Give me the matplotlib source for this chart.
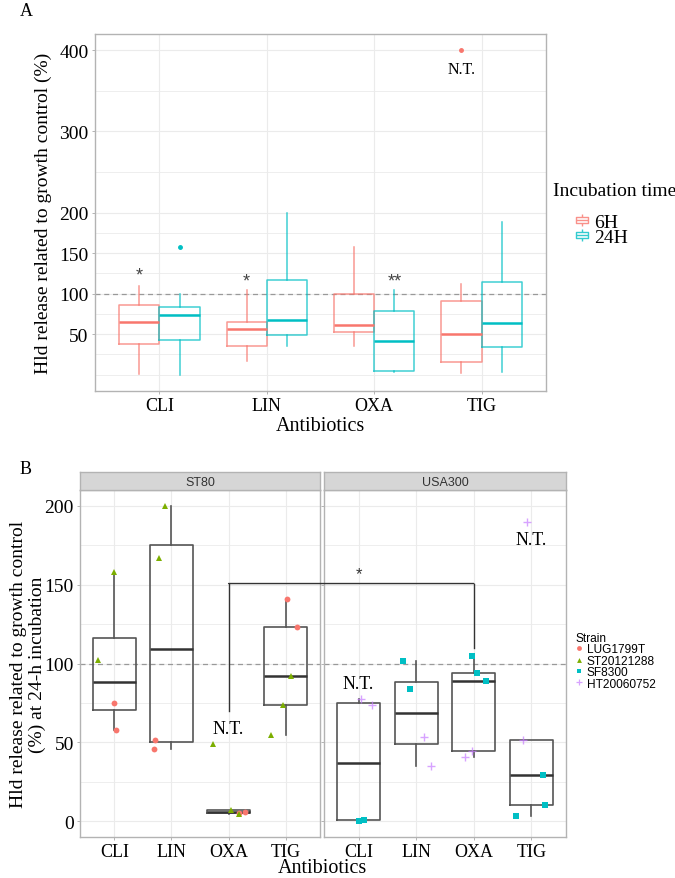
import matplotlib
matplotlib.use('Agg')
import matplotlib.pyplot as plt
from matplotlib.lines import Line2D
from matplotlib.path import Path
from matplotlib.patches import ConnectionPatch

SERIF = 'Liberation Serif'
SANS = 'Liberation Sans'

# ---------------- panel A data (summary boxes) ----------------
antibiotics = ['CLI', 'LIN', 'OXA', 'TIG']
times = ['6H', '24H']
# whisker low, Q1, median, Q3, whisker high
box_6h = [[1.5, 38, 65, 86.5, 110],
          [17, 35, 57, 65, 104],
          [35, 53, 61, 100, 157],
          [2.7, 15.7, 50.6, 90.6, 112]]
box_24h = [[0, 43, 74, 83, 100],
           [35, 49, 68, 117, 199],
           [4, 5, 42, 78, 104],
           [4, 34, 63.6, 114.3, 188.7]]
outliers_6h = [[], [], [], [400]]
outliers_24h = [[157], [], [], []]
stars_abx = ['CLI', 'LIN', 'OXA']
stars_time = ['6H', '6H', '24H']
stars_label = ['*', '*', '**']
stars_y = [123, 116, 116]
nt_a_abx = 'TIG'
nt_a_y = 377

# ---------------- panel B data (individual strains) ----------------
strains = ['LUG1799T', 'ST20121288', 'SF8300', 'HT20060752']

st80_abx = ['CLI', 'CLI', 'CLI', 'CLI',
            'LIN', 'LIN', 'LIN', 'LIN',
            'OXA', 'OXA', 'OXA', 'OXA', 'OXA',
            'TIG', 'TIG', 'TIG', 'TIG', 'TIG']
st80_strain = ['ST20121288', 'ST20121288', 'LUG1799T', 'LUG1799T',
               'ST20121288', 'ST20121288', 'LUG1799T', 'LUG1799T',
               'ST20121288', 'ST20121288', 'ST20121288', 'LUG1799T', 'LUG1799T',
               'LUG1799T', 'LUG1799T', 'ST20121288', 'ST20121288', 'ST20121288']
st80_value = [158, 102, 75, 57.6,
              200, 167, 51.3, 45.8,
              49.2, 7.3, 4.8, 5.7, 5.0,
              140.8, 123.3, 91.8, 74, 54.4]
st80_jitter = [0.0, -0.28, 0.0, 0.03,
               -0.12, -0.21, -0.28, -0.30,
               -0.27, 0.05, 0.19, 0.28, 0.19,
               0.03, 0.20, 0.10, -0.05, -0.26]

usa_abx = ['CLI', 'CLI', 'CLI', 'CLI',
           'LIN', 'LIN', 'LIN', 'LIN',
           'OXA', 'OXA', 'OXA', 'OXA', 'OXA',
           'TIG', 'TIG', 'TIG', 'TIG', 'TIG']
usa_strain = ['HT20060752', 'HT20060752', 'SF8300', 'SF8300',
              'SF8300', 'SF8300', 'HT20060752', 'HT20060752',
              'SF8300', 'SF8300', 'SF8300', 'HT20060752', 'HT20060752',
              'HT20060752', 'HT20060752', 'SF8300', 'SF8300', 'SF8300']
usa_value = [77.7, 73.8, 0.4, 0.5,
             101.5, 83.9, 53.3, 34.7,
             104.9, 93.9, 89.1, 44.5, 41,
             189.8, 51.3, 29.4, 10.5, 3.2]
usa_jitter = [0.05, 0.23, 0.01, 0.10,
              -0.23, -0.10, 0.14, 0.26,
              -0.04, 0.06, 0.22, -0.04, -0.16,
              -0.08, -0.14, 0.20, 0.24, -0.27]

nt_st80 = [('OXA', 58.8)]
nt_usa = [('CLI', 87.6), ('TIG', 178.6)]
bracket_y = 150.7
bracket_left_end = 70
bracket_right_end = 110
bracket_star_y = 157

# ---------------- styling ----------------
time_colors = {'6H': '#F8766D', '24H': '#00BFC4'}
strain_colors = {'LUG1799T': '#F8766D', 'ST20121288': '#7CAE00',
                 'SF8300': '#00BFC4', 'HT20060752': '#C77CFF'}
strain_markers = {'LUG1799T': 'o', 'ST20121288': '^', 'SF8300': 's', 'HT20060752': '+'}
BORDER = '#B3B3B3'
GRID = '#EBEBEB'


def style_axes(ax):
    for s in ax.spines.values():
        s.set_color(BORDER)
        s.set_linewidth(1.0)
    ax.grid(True, which='major', color=GRID, lw=0.8)
    ax.grid(True, which='minor', axis='y', color=GRID, lw=0.6)
    ax.set_axisbelow(True)
    ax.tick_params(axis='both', which='major', length=2.5, width=0.7, color=BORDER,
                   labelcolor='black', pad=2)
    ax.tick_params(axis='both', which='minor', length=0)


fig = plt.figure(figsize=(6.75, 8.79), dpi=100)
W, H = 675.0, 879.0


def px_axes(x0, y0, x1, y1):
    return fig.add_axes([x0 / W, 1 - y1 / H, (x1 - x0) / W, (y1 - y0) / H])


# ================= panel A =================
axA = px_axes(95, 35, 546, 392)
pos = list(range(1, len(antibiotics) + 1))
half = 0.1875
for t, boxes, outs, sign in [('6H', box_6h, outliers_6h, -1), ('24H', box_24h, outliers_24h, 1)]:
    stats = []
    for b, o in zip(boxes, outs):
        stats.append({'whislo': b[0], 'q1': b[1], 'med': b[2], 'q3': b[3], 'whishi': b[4],
                      'fliers': o})
    c = time_colors[t]
    axA.bxp(stats, positions=[p + sign * half for p in pos], widths=2 * half,
            showcaps=False, showfliers=True,
            boxprops=dict(color=c, lw=1.1, alpha=0.75),
            whiskerprops=dict(color=c, lw=1.1, alpha=0.75),
            medianprops=dict(color=c, lw=1.8),
            flierprops=dict(marker='o', markerfacecolor=c, markeredgecolor=c, markersize=2.5))

for abx, t, lab, y in zip(stars_abx, stars_time, stars_label, stars_y):
    x = antibiotics.index(abx) + 1 + (-half if t == '6H' else half)
    axA.text(x, y, lab, ha='center', va='center', fontsize=13, color='#444444', family=SANS)
axA.text(antibiotics.index(nt_a_abx) + 1 - half, nt_a_y, 'N.T.', ha='center', va='center',
         fontsize=11.5, family=SERIF)

axA.axhline(100, ls=(0, (4, 3)), color='#999999', lw=0.9, zorder=1)
axA.set_xlim(0.4, 4.6)
axA.set_ylim(-20, 420)
axA.set_xticks(pos)
axA.set_xticklabels(antibiotics, fontsize=13, family=SERIF)
axA.set_yticks([50, 100, 150, 200, 300, 400])
axA.set_yticklabels(['50', '100', '150', '200', '300', '400'], fontsize=14, family=SERIF)
axA.set_yticks([0, 25, 75, 125, 175, 250, 350], minor=True)
style_axes(axA)
axA.set_ylabel('Hld release related to growth control (%)', fontsize=14, family=SERIF)
axA.yaxis.set_label_coords(-0.095, 0.5)
axA.set_xlabel('Antibiotics', fontsize=14.5, family=SERIF, labelpad=1)

# legend A
box_marker = Path([(-0.5, -0.3), (0.5, -0.3), (0.5, 0.3), (-0.5, 0.3), (-0.5, -0.3),
                   (-0.5, 0.0), (0.5, 0.0), (0.0, 0.3), (0.0, 0.55), (0.0, -0.3), (0.0, -0.55)],
                  [Path.MOVETO, Path.LINETO, Path.LINETO, Path.LINETO, Path.CLOSEPOLY,
                   Path.MOVETO, Path.LINETO, Path.MOVETO, Path.LINETO, Path.MOVETO, Path.LINETO])
fig.text(553 / W, 1 - 192 / H, 'Incubation time', fontsize=14, family=SERIF, va='center')
handles_a = [Line2D([], [], ls='none', marker=box_marker, markersize=9, markerfacecolor='none',
                    markeredgecolor=time_colors[t], markeredgewidth=1.0, alpha=0.8) for t in times]
fig.legend(handles_a, times, loc='upper left', bbox_to_anchor=(573 / W, 1 - 214 / H),
           frameon=False, prop={'family': SERIF, 'size': 14}, handlelength=0.9,
           handletextpad=0.2, labelspacing=-0.1, borderpad=0, borderaxespad=0)

fig.text(20 / W, 1 - 11 / H, 'A', fontsize=13, family=SERIF, va='center')

# ================= panel B =================
axL = px_axes(80, 491, 320, 838)
axR = px_axes(324, 491, 566, 838)
for ax, abx_l, strain_l, val_l, jit_l, title, nts in [
        (axL, st80_abx, st80_strain, st80_value, st80_jitter, 'ST80', nt_st80),
        (axR, usa_abx, usa_strain, usa_value, usa_jitter, 'USA300', nt_usa)]:
    groups = [[v for a, v in zip(abx_l, val_l) if a == abx] for abx in antibiotics]
    ax.boxplot(groups, positions=pos, widths=0.75, showfliers=False, showcaps=False,
               boxprops=dict(color='#555555', lw=1.2),
               whiskerprops=dict(color='#555555', lw=1.2),
               medianprops=dict(color='#333333', lw=1.8))
    for s in strains:
        xs = [antibiotics.index(a) + 1 + j for a, st, j in zip(abx_l, strain_l, jit_l) if st == s]
        ys = [v for st, v in zip(strain_l, val_l) if st == s]
        if not xs:
            continue
        if strain_markers[s] == '+':
            ax.plot(xs, ys, ls='none', marker='+', color=strain_colors[s], markersize=6,
                    markeredgewidth=1.0, alpha=0.7, zorder=3)
        else:
            ax.plot(xs, ys, ls='none', marker=strain_markers[s], color=strain_colors[s],
                    markersize=4.2, markeredgewidth=0, zorder=3)
    for abx, y in nts:
        ax.text(antibiotics.index(abx) + 1, y, 'N.T.', ha='center', va='center',
                fontsize=13, family=SERIF)
    ax.axhline(100, ls=(0, (4, 3)), color='#999999', lw=0.9, zorder=1)
    ax.set_xlim(0.4, 4.6)
    ax.set_ylim(-10, 210)
    ax.set_xticks(pos)
    ax.set_xticklabels(antibiotics, fontsize=13, family=SERIF)
    ax.set_yticks([0, 50, 100, 150, 200])
    ax.set_yticks([25, 75, 125, 175], minor=True)
    style_axes(ax)

    # facet strip
    bb = ax.get_position()
    sax = fig.add_axes([bb.x0, bb.y1, bb.width, 18 / H])
    sax.set_facecolor('#D6D6D6')
    sax.set_xticks([])
    sax.set_yticks([])
    for sp in sax.spines.values():
        sp.set_color(BORDER)
        sp.set_linewidth(1.0)
    sax.text(0.5, 0.45, title, ha='center', va='center', fontsize=9, family=SANS,
             color='#333333', transform=sax.transAxes)

axL.set_yticklabels(['0', '50', '100', '150', '200'], fontsize=14, family=SERIF)
axR.tick_params(axis='y', labelleft=False)
axL.set_ylabel('Hld release related to growth control\n(%) at 24-h incubation',
               fontsize=14, family=SERIF, linespacing=1.15)
axL.yaxis.set_label_coords(-0.142, 0.5)

# significance bracket between facets
oxa = antibiotics.index('OXA') + 1
axL.plot([oxa, oxa], [bracket_left_end, bracket_y], color='#333333', lw=1.0, zorder=4)
axR.plot([oxa, oxa], [bracket_right_end, bracket_y], color='#333333', lw=1.0, zorder=4)
con = ConnectionPatch(xyA=(oxa, bracket_y), coordsA=axL.transData,
                      xyB=(oxa, bracket_y), coordsB=axR.transData,
                      color='#333333', lw=1.0, zorder=4)
fig.add_artist(con)
axR.text(1, bracket_star_y, '*', ha='center', va='center', fontsize=12, color='#333333',
         family=SANS)

fig.text(322 / W, 1 - 869 / H, 'Antibiotics', fontsize=14.5, family=SERIF,
         ha='center', va='center')
fig.text(20 / W, 1 - 470 / H, 'B', fontsize=13, family=SERIF, va='center')

# legend B
handles_b = []
for s in strains:
    if strain_markers[s] == '+':
        handles_b.append(Line2D([], [], ls='none', marker='+', color=strain_colors[s],
                                markersize=5, markeredgewidth=0.9, alpha=0.7))
    else:
        handles_b.append(Line2D([], [], ls='none', marker=strain_markers[s],
                                color=strain_colors[s], markersize=3.5, markeredgewidth=0))
fig.legend(handles_b, strains, title='Strain', loc='upper left',
           bbox_to_anchor=(575 / W, 1 - 633 / H), frameon=False, alignment='left',
           prop={'family': SANS, 'size': 8.6}, title_fontproperties={'family': SANS, 'size': 8.6},
           handlelength=0.6, handletextpad=0.4, labelspacing=-0.05, borderpad=0,
           borderaxespad=0)

fig.savefig('out.png', dpi=100)
